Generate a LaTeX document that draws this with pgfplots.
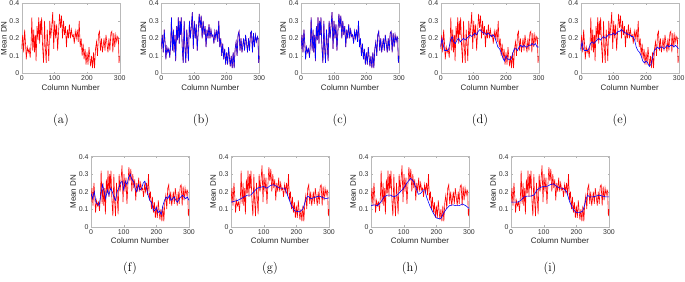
\documentclass[border=0pt]{standalone}
\usepackage{fontspec}
\usepackage{pgfplots}
\usepackage{pgfplotstable}
\pgfplotsset{compat=1.18}
\newfontfamily\arial{Liberation Sans}

\pgfplotstableread{
x y
0 0.14
3 0.22
6 0.12
9 0.25
12 0.16
14 0.08
17 0.15
20 0.12
23 0.14
26 0.09
29 0.18
31 0.32
34 0.13
37 0.25
39 0.12
42 0.22
44 0.07
47 0.27
50 0.19
52 0.32
55 0.17
57 0.30
59 0.22
61 0.32
64 0.15
67 0.06
70 0.30
72 0.16
75 0.06
78 0.25
80 0.18
83 0.07
86 0.30
89 0.20
92 0.27
95 0.35
98 0.14
101 0.30
104 0.20
107 0.28
110 0.13
113 0.24
116 0.34
119 0.26
122 0.33
125 0.20
128 0.30
131 0.22
134 0.27
137 0.15
140 0.25
143 0.20
146 0.28
149 0.20
152 0.25
155 0.21
158 0.22
161 0.17
164 0.24
167 0.20
170 0.25
173 0.18
176 0.30
179 0.15
182 0.20
185 0.10
188 0.17
191 0.08
194 0.14
197 0.05
200 0.12
203 0.05
206 0.15
209 0.08
211 0.04
214 0.10
217 0.03
220 0.12
223 0.03
226 0.14
229 0.18
232 0.10
235 0.22
238 0.24
241 0.13
244 0.20
247 0.12
249 0.15
252 0.20
255 0.13
258 0.22
261 0.17
264 0.12
267 0.20
270 0.13
273 0.23
276 0.24
279 0.12
282 0.23
285 0.15
288 0.22
291 0.18
294 0.21
296 0.20
298 0.06
300 0.10
}\sig

\pgfplotstableread{
x y
0 0.15
4 0.20
8 0.16
12 0.13
20 0.13
25 0.14
30 0.19
35 0.21
40 0.18
45 0.17
50 0.19
55 0.20
60 0.18
65 0.19
70 0.20
75 0.19
80 0.20
85 0.21
90 0.22
95 0.21
100 0.22
105 0.23
110 0.22
115 0.24
120 0.25
125 0.24
130 0.23
135 0.23
140 0.22
145 0.23
150 0.22
155 0.21
160 0.22
165 0.21
170 0.18
175 0.15
180 0.14
185 0.12
190 0.09
195 0.07
200 0.10
205 0.08
210 0.08
215 0.08
220 0.11
225 0.14
230 0.14
235 0.13
240 0.15
245 0.16
250 0.15
255 0.16
260 0.15
265 0.15
270 0.16
275 0.16
280 0.17
285 0.16
290 0.17
295 0.15
300 0.15
}\smd

\pgfplotstableread{
x y
0 0.13
4 0.18
8 0.14
12 0.13
20 0.13
25 0.14
30 0.17
35 0.18
40 0.17
45 0.18
50 0.19
55 0.20
60 0.19
65 0.20
70 0.21
75 0.20
80 0.21
85 0.22
90 0.22
95 0.22
100 0.23
105 0.22
110 0.23
115 0.24
120 0.24
125 0.25
130 0.24
135 0.23
140 0.23
145 0.22
150 0.22
155 0.21
160 0.21
165 0.19
170 0.15
175 0.13
180 0.12
185 0.10
190 0.07
195 0.06
200 0.07
205 0.06
210 0.04
215 0.05
220 0.09
225 0.13
230 0.14
235 0.15
240 0.14
245 0.15
250 0.15
255 0.14
260 0.15
265 0.16
270 0.15
275 0.16
280 0.16
285 0.15
290 0.16
295 0.15
300 0.14
}\sme

\pgfplotstableread{
x y
0 0.19
5 0.16
10 0.20
15 0.14
20 0.13
25 0.12
30 0.18
35 0.24
40 0.20
45 0.16
50 0.21
55 0.18
60 0.22
65 0.20
70 0.17
75 0.15
80 0.20
85 0.22
90 0.25
95 0.26
100 0.21
105 0.26
110 0.24
115 0.28
120 0.30
125 0.27
130 0.26
135 0.22
140 0.20
145 0.24
150 0.21
155 0.22
160 0.25
165 0.26
170 0.22
175 0.18
180 0.15
185 0.14
190 0.10
195 0.09
200 0.11
205 0.08
210 0.09
215 0.07
220 0.12
225 0.15
230 0.17
235 0.16
240 0.18
245 0.15
250 0.16
255 0.17
260 0.15
265 0.14
270 0.16
275 0.17
280 0.18
285 0.17
290 0.16
295 0.17
300 0.15
}\smf

\pgfplotstableread{
x y
0 0.140
10 0.145
20 0.150
30 0.160
40 0.170
50 0.180
60 0.180
70 0.200
80 0.220
90 0.225
100 0.230
110 0.220
120 0.235
130 0.240
140 0.230
150 0.220
160 0.220
165 0.220
175 0.170
185 0.120
195 0.090
210 0.085
220 0.100
230 0.160
235 0.175
245 0.160
260 0.170
270 0.175
290 0.160
300 0.165
}\smg

\pgfplotstableread{
x y
0 0.120
10 0.125
20 0.120
30 0.140
40 0.170
50 0.180
60 0.180
70 0.170
80 0.180
90 0.200
100 0.220
110 0.250
121 0.276
130 0.260
140 0.210
145 0.185
152 0.190
160 0.210
165 0.210
170 0.170
180 0.120
190 0.080
200 0.050
210 0.045
215 0.050
220 0.070
230 0.100
240 0.120
250 0.125
260 0.120
270 0.120
280 0.130
290 0.120
300 0.105
}\smh

\pgfplotstableread{
x y
0 0.140
10 0.140
20 0.140
30 0.150
40 0.170
50 0.175
60 0.175
70 0.180
80 0.210
90 0.225
100 0.230
110 0.230
120 0.240
130 0.245
140 0.230
150 0.220
160 0.220
170 0.200
180 0.140
190 0.100
200 0.080
210 0.080
220 0.090
225 0.120
230 0.160
235 0.180
240 0.170
250 0.170
260 0.175
270 0.180
280 0.175
290 0.170
300 0.170
}\smi

\pgfplotsset{
  sub/.style={
    scale only axis, width=98bp, height=70bp,
    anchor=south west,
    xmin=0, xmax=300, ymin=0, ymax=0.4,
    xtick={0,100,200,300}, ytick={0,0.1,0.2,0.3,0.4},
    enlargelimits=false,
    axis line style={gray!55, line width=0.4pt},
    major tick style={gray!60, line width=0.3pt},
    major tick length=1.5bp,
    /pgf/number format/assume math mode=true,
    tick label style={font=\arial\fontsize{7}{8}\selectfont, text=black!80},
    xticklabel style={yshift=1pt},
    yticklabel style={xshift=1pt},
    label style={font=\arial\fontsize{8}{9}\selectfont, text=black!85},
    xlabel={Column Number}, ylabel={Mean DN},
    xlabel shift=-3pt,
    ylabel shift=-4pt,
  },
  redl/.style={red, line width=0.6pt},
  bluel/.style={blue, line width=0.6pt},
}

\begin{document}
\begin{tikzpicture}
\useasboundingbox (0bp,0bp) rectangle (685bp,282bp);

\begin{axis}[sub, at={(21.7bp,208.7bp)}]
\addplot[redl] table {\sig};
\end{axis}
\begin{axis}[sub, at={(161.3bp,208.7bp)}]
\addplot[red, line width=0.5pt] table {\sig};
\addplot[blue, line width=0.6pt] table {\sig};
\end{axis}
\begin{axis}[sub, at={(301bp,208.7bp)}]
\addplot[red, line width=0.5pt] table {\sig};
\addplot[blue, line width=0.6pt] table {\sig};
\end{axis}
\begin{axis}[sub, at={(440.7bp,208.7bp)}]
\addplot[redl] table {\sig};
\addplot[bluel] table {\smd};
\end{axis}
\begin{axis}[sub, at={(580.7bp,208.7bp)}]
\addplot[redl] table {\sig};
\addplot[bluel] table {\sme};
\end{axis}

\begin{axis}[sub, at={(91bp,55.3bp)}]
\addplot[redl] table {\sig};
\addplot[bluel] table {\smf};
\end{axis}
\begin{axis}[sub, at={(231bp,55.3bp)}]
\addplot[redl] table {\sig};
\addplot[bluel] table {\smg};
\end{axis}
\begin{axis}[sub, at={(371bp,55.3bp)}]
\addplot[redl] table {\sig};
\addplot[bluel] table {\smh};
\end{axis}
\begin{axis}[sub, at={(511bp,55.3bp)}]
\addplot[redl] table {\sig};
\addplot[bluel] table {\smi};
\end{axis}

\begin{scope}[every node/.style={font=\fontsize{12.5}{14}\selectfont}]
\node at (61bp,162bp) {(a)};
\node at (201bp,162bp) {(b)};
\node at (340bp,162bp) {(c)};
\node at (480bp,162bp) {(d)};
\node at (620bp,162bp) {(e)};
\node at (130bp,14bp) {(f)};
\node at (270bp,14bp) {(g)};
\node at (410bp,14bp) {(h)};
\node at (550bp,14bp) {(i)};
\end{scope}
\end{tikzpicture}
\end{document}
